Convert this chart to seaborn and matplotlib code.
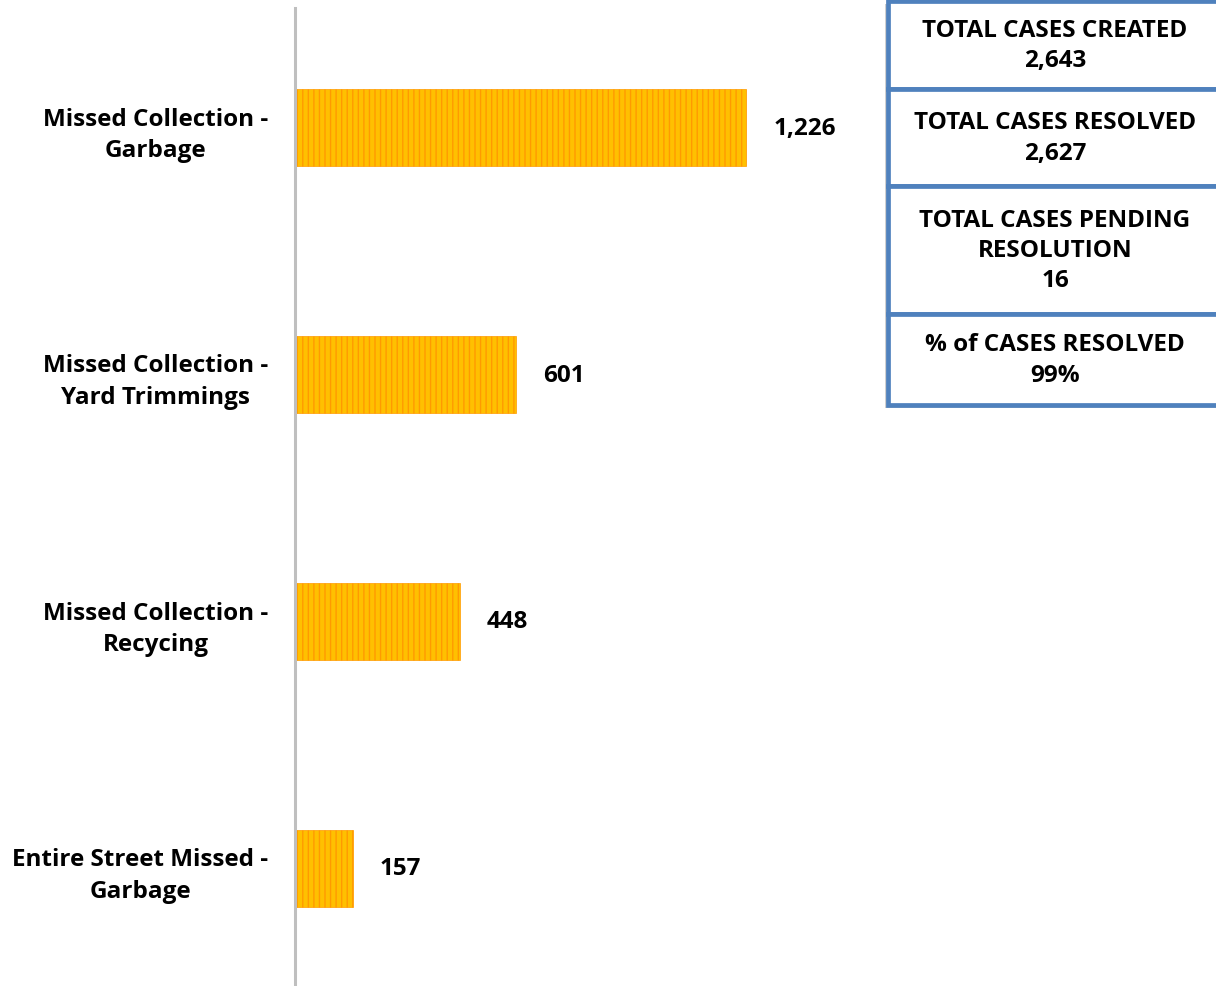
import numpy as np
import matplotlib
matplotlib.use('Agg')
import matplotlib.pyplot as plt
import seaborn as sns
from matplotlib.patches import Rectangle

# data
categories = ['Missed Collection -\nGarbage',
              'Missed Collection -\nYard Trimmings',
              'Missed Collection -\nRecycing',
              'Entire Street Missed -\nGarbage']
cases = [1226, 601, 448, 157]

box_titles = ['TOTAL CASES CREATED', 'TOTAL CASES RESOLVED',
              'TOTAL CASES PENDING\nRESOLUTION', '% of CASES RESOLVED']
box_values = ['2,643', '2,627', '16', '99%']

sns.set_style('white')
plt.rcParams['font.family'] = ['Open Sans', 'DejaVu Sans']
plt.rcParams['hatch.linewidth'] = 1.0

W, H = 1216, 987
FS = 17.5
fig = plt.figure(figsize=(W/100, H/100), dpi=100)

def fx(px):
    return px/W
def fy(py):
    return 1 - py/H

# axes: 4 bands of ~247 px, first centre at y=128
ax = fig.add_axes([fx(295), fy(993), fx(W-295), 988/H])
sns.barplot(x=cases, y=categories, orient='h', width=0.31,
            color='#FFC000', saturation=1, ax=ax)
for p in ax.patches:
    p.set_hatch('|||')
    p.set_edgecolor('#FF9A00')
    p.set_linewidth(0.5)

ax.set_xlim(0, 921/0.368)
ax.set_ylim(3.5, -0.5)
for s in ['top', 'right', 'bottom']:
    ax.spines[s].set_visible(False)
ax.spines['left'].set_color('#BFBFBF')
ax.spines['left'].set_linewidth(2.2)
ax.spines['left'].set_bounds(-0.5 + 3.5/247, 3.5 - 8/247)
ax.set_xticks([])
ax.tick_params(axis='y', length=0, pad=19.4)
for lbl in ax.get_yticklabels():
    lbl.set_fontsize(FS)
    lbl.set_fontweight('bold')
    lbl.set_color('black')
    lbl.set_multialignment('center')
    lbl.set_linespacing(1.4)

for i, v in enumerate(cases):
    ax.annotate(f'{v:,}', (v, i), xytext=(19.4, 0), textcoords='offset points',
                va='center', ha='left', fontsize=FS, fontweight='bold',
                color='black')
ax.set_xlabel('')
ax.set_ylabel('')

# summary boxes on the right
edges = [2, 90, 187, 315, 406]
x0, x1 = 888, 1230
for k in range(4):
    top, bot = edges[k], edges[k+1]
    fig.patches.append(Rectangle((fx(x0-3), fy(bot+3)), fx(x1-x0), (bot-top)/H,
                                 transform=fig.transFigure, facecolor='#D0D0D0',
                                 edgecolor='none', zorder=1))
    fig.patches.append(Rectangle((fx(x0), fy(bot)), fx(x1-x0), (bot-top)/H,
                                 transform=fig.transFigure, facecolor='white',
                                 edgecolor='#4F81BD', linewidth=3.4, zorder=2))
    txt = box_titles[k] + '\n' + box_values[k]
    fig.text(fx(1055), fy((top+bot)/2), txt, ha='center', va='center',
             fontsize=FS, fontweight='bold', linespacing=1.35, zorder=3,
             color='black')

fig.savefig('out.png', dpi=100)
